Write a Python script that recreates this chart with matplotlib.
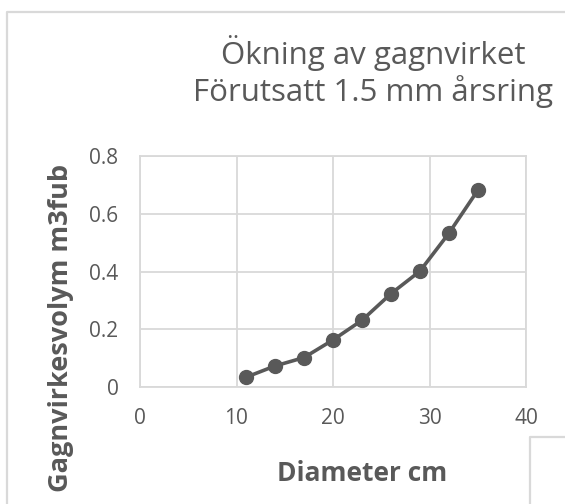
import matplotlib
matplotlib.use("Agg")
import matplotlib.pyplot as plt
from matplotlib.lines import Line2D

# Data
diameter_cm = [11, 14, 17, 20, 23, 26, 29, 32, 35]
volume_m3fub = [0.034, 0.073, 0.102, 0.163, 0.231, 0.323, 0.401, 0.532, 0.681]
x_ticks = [0, 10, 20, 30, 40]
y_ticks = [0, 0.2, 0.4, 0.6, 0.8]
y_tick_labels = ["0", "0.2", "0.4", "0.6", "0.8"]
title_lines = ["Ökning av gagnvirket", "Förutsatt 1.5 mm årsring"]
x_label = "Diameter cm"
y_label = "Gagnvirkesvolym m3fub"

TEXT = "#595959"
GRID = "#d9d9d9"
W, H = 565, 504

plt.rcParams['font.family'] = ['Open Sans', 'DejaVu Sans']

fig = plt.figure(figsize=(W / 100, H / 100), dpi=100)
ax = fig.add_axes([140 / W, 1 - 387 / H, 386 / W, 231 / H])

ax.plot(diameter_cm, volume_m3fub, color=TEXT, lw=2.6, marker='o',
        markersize=10, markerfacecolor=TEXT, markeredgecolor=TEXT,
        solid_capstyle='round', zorder=3, clip_on=False)

ax.set_xlim(0, 40)
ax.set_ylim(0, 0.8)
ax.set_xticks(x_ticks)
ax.set_yticks(y_ticks)
ax.set_yticklabels(y_tick_labels)
ax.grid(True, color=GRID, lw=1.3)
ax.set_axisbelow(True)
for s in ax.spines.values():
    s.set_color(GRID)
    s.set_linewidth(1.3)
ax.tick_params(axis='both', length=0, labelsize=15, labelcolor=TEXT)
ax.tick_params(axis='x', pad=15)
ax.tick_params(axis='y', pad=15.5)

# Title
fig.text(373 / W, 1 - 64 / H, title_lines[0], ha='center', va='baseline',
         fontsize=22.5, color=TEXT)
fig.text(373 / W, 1 - 101 / H, title_lines[1], ha='center', va='baseline',
         fontsize=22.5, color=TEXT)

# Axis labels
fig.text(362 / W, 1 - 481 / H, x_label, ha='center', va='baseline',
         fontsize=19, fontweight='bold', color=TEXT)
fig.text(61 / W, 1 - 328 / H, y_label, ha='center', va='center',
         rotation=90, fontsize=19.5, fontweight='bold', color=TEXT)

# Chart frame borders
fig.add_artist(Line2D([7 / W, 7 / W, 1.0], [0.0, 1 - 12 / H, 1 - 12 / H],
                      transform=fig.transFigure, color=GRID, lw=1.6))
fig.add_artist(Line2D([530 / W, 530 / W, 1.0], [0.0, 1 - 437 / H, 1 - 437 / H],
                      transform=fig.transFigure, color=GRID, lw=1.6))

fig.savefig("out.png", dpi=100, facecolor='white')
